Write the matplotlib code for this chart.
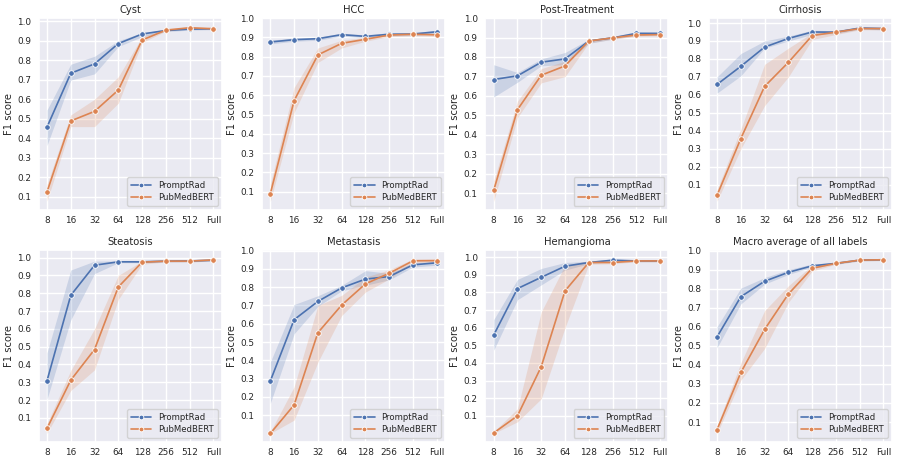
import numpy as np
import matplotlib
matplotlib.use("Agg")
import matplotlib.pyplot as plt
import seaborn as sns

sns.set_theme(style="darkgrid")
plt.rcParams['font.family'] = ['DejaVu Sans']

shots = ["8", "16", "32", "64", "128", "256", "512", "Full"]
series_names = ["PromptRad", "PubMedBERT"]

titles = ["Cyst", "HCC", "Post-Treatment", "Cirrhosis",
          "Steatosis", "Metastasis", "Hemangioma", "Macro average of all labels"]

# mean, lower, upper per panel: PromptRad (pr) and PubMedBERT (pm)
cyst_pr = [0.457, 0.733, 0.781, 0.885, 0.934, 0.952, 0.959, 0.961]
cyst_pr_lo = [0.363, 0.698, 0.730, 0.870, 0.920, 0.946, 0.954, 0.956]
cyst_pr_hi = [0.545, 0.779, 0.820, 0.900, 0.940, 0.958, 0.964, 0.966]
cyst_pm = [0.125, 0.489, 0.538, 0.647, 0.903, 0.954, 0.966, 0.961]
cyst_pm_lo = [0.078, 0.460, 0.460, 0.580, 0.890, 0.949, 0.961, 0.956]
cyst_pm_hi = [0.163, 0.520, 0.600, 0.715, 0.920, 0.959, 0.971, 0.966]

hcc_pr = [0.876, 0.888, 0.893, 0.914, 0.905, 0.916, 0.917, 0.929]
hcc_pr_lo = [0.866, 0.880, 0.885, 0.906, 0.897, 0.908, 0.909, 0.921]
hcc_pr_hi = [0.886, 0.896, 0.901, 0.922, 0.913, 0.924, 0.925, 0.937]
hcc_pm = [0.090, 0.572, 0.809, 0.869, 0.890, 0.912, 0.916, 0.913]
hcc_pm_lo = [0.050, 0.510, 0.770, 0.845, 0.880, 0.904, 0.908, 0.905]
hcc_pm_hi = [0.140, 0.640, 0.845, 0.885, 0.900, 0.920, 0.924, 0.921]

post_pr = [0.684, 0.703, 0.773, 0.790, 0.882, 0.898, 0.921, 0.921]
post_pr_lo = [0.594, 0.670, 0.755, 0.760, 0.870, 0.891, 0.910, 0.914]
post_pr_hi = [0.760, 0.720, 0.790, 0.823, 0.890, 0.905, 0.930, 0.928]
post_pm = [0.114, 0.529, 0.706, 0.754, 0.882, 0.898, 0.913, 0.915]
post_pm_lo = [0.057, 0.488, 0.667, 0.699, 0.872, 0.891, 0.906, 0.908]
post_pm_hi = [0.163, 0.573, 0.740, 0.778, 0.890, 0.905, 0.920, 0.922]

cirr_pr = [0.658, 0.759, 0.866, 0.914, 0.950, 0.949, 0.972, 0.969]
cirr_pr_lo = [0.610, 0.706, 0.860, 0.900, 0.936, 0.941, 0.965, 0.962]
cirr_pr_hi = [0.700, 0.830, 0.900, 0.927, 0.960, 0.957, 0.979, 0.976]
cirr_pm = [0.041, 0.357, 0.647, 0.781, 0.930, 0.949, 0.969, 0.969]
cirr_pm_lo = [0.008, 0.300, 0.540, 0.700, 0.908, 0.936, 0.962, 0.962]
cirr_pm_hi = [0.072, 0.410, 0.770, 0.860, 0.945, 0.960, 0.976, 0.976]

stea_pr = [0.308, 0.788, 0.957, 0.976, 0.976, 0.980, 0.981, 0.985]
stea_pr_lo = [0.204, 0.650, 0.910, 0.971, 0.971, 0.975, 0.976, 0.980]
stea_pr_hi = [0.465, 0.930, 0.980, 0.981, 0.981, 0.985, 0.986, 0.990]
stea_pm = [0.041, 0.312, 0.484, 0.835, 0.974, 0.980, 0.980, 0.987]
stea_pm_lo = [0.013, 0.254, 0.370, 0.765, 0.963, 0.975, 0.975, 0.982]
stea_pm_hi = [0.068, 0.366, 0.600, 0.900, 0.980, 0.985, 0.985, 0.992]

meta_pr = [0.287, 0.622, 0.722, 0.796, 0.844, 0.858, 0.922, 0.933]
meta_pr_lo = [0.165, 0.545, 0.695, 0.780, 0.810, 0.840, 0.910, 0.920]
meta_pr_hi = [0.390, 0.705, 0.753, 0.810, 0.890, 0.876, 0.933, 0.940]
meta_pm = [0.000, 0.156, 0.551, 0.702, 0.818, 0.876, 0.944, 0.945]
meta_pm_lo = [0.000, 0.073, 0.390, 0.645, 0.773, 0.845, 0.933, 0.933]
meta_pm_hi = [0.009, 0.255, 0.700, 0.755, 0.855, 0.895, 0.954, 0.954]

hema_pr = [0.558, 0.822, 0.886, 0.949, 0.970, 0.983, 0.979, 0.979]
hema_pr_lo = [0.472, 0.759, 0.843, 0.927, 0.963, 0.976, 0.974, 0.974]
hema_pr_hi = [0.646, 0.874, 0.936, 0.970, 0.977, 0.990, 0.984, 0.984]
hema_pm = [0.003, 0.100, 0.379, 0.809, 0.970, 0.970, 0.979, 0.979]
hema_pm_lo = [0.000, 0.066, 0.197, 0.600, 0.960, 0.963, 0.974, 0.974]
hema_pm_hi = [0.010, 0.140, 0.690, 0.955, 0.980, 0.977, 0.984, 0.984]

macro_pr = [0.547, 0.758, 0.839, 0.886, 0.920, 0.933, 0.950, 0.952]
macro_pr_lo = [0.490, 0.720, 0.824, 0.875, 0.913, 0.928, 0.946, 0.948]
macro_pr_hi = [0.600, 0.803, 0.858, 0.900, 0.930, 0.938, 0.954, 0.956]
macro_pm = [0.060, 0.360, 0.586, 0.772, 0.907, 0.933, 0.950, 0.952]
macro_pm_lo = [0.040, 0.320, 0.486, 0.728, 0.893, 0.928, 0.946, 0.948]
macro_pm_hi = [0.080, 0.410, 0.685, 0.815, 0.924, 0.938, 0.954, 0.956]

panels = [
    (cyst_pr, cyst_pr_lo, cyst_pr_hi, cyst_pm, cyst_pm_lo, cyst_pm_hi),
    (hcc_pr, hcc_pr_lo, hcc_pr_hi, hcc_pm, hcc_pm_lo, hcc_pm_hi),
    (post_pr, post_pr_lo, post_pr_hi, post_pm, post_pm_lo, post_pm_hi),
    (cirr_pr, cirr_pr_lo, cirr_pr_hi, cirr_pm, cirr_pm_lo, cirr_pm_hi),
    (stea_pr, stea_pr_lo, stea_pr_hi, stea_pm, stea_pm_lo, stea_pm_hi),
    (meta_pr, meta_pr_lo, meta_pr_hi, meta_pm, meta_pm_lo, meta_pm_hi),
    (hema_pr, hema_pr_lo, hema_pr_hi, hema_pm, hema_pm_lo, hema_pm_hi),
    (macro_pr, macro_pr_lo, macro_pr_hi, macro_pm, macro_pm_lo, macro_pm_hi),
]

colors = sns.color_palette("deep")[:2]
yticks = [0.1, 0.2, 0.3, 0.4, 0.5, 0.6, 0.7, 0.8, 0.9, 1.0]

fig, axes = plt.subplots(2, 4, figsize=(8.99, 4.63), dpi=100)
fig.subplots_adjust(left=0.043, right=0.992, top=0.961, bottom=0.045,
                    wspace=0.22, hspace=0.21)

x = np.arange(len(shots))
for ax, title, data in zip(axes.flat, titles, panels):
    for k in range(2):
        mean, lo, hi = data[3 * k], data[3 * k + 1], data[3 * k + 2]
        ax.fill_between(x, lo, hi, color=colors[k], alpha=0.2, linewidth=0)
        ax.plot(x, mean, color=colors[k], marker='o', markersize=4,
                markeredgecolor='white', markeredgewidth=0.6, linewidth=1.2,
                label=series_names[k])
    ax.set_xticks(x)
    ax.set_xticklabels(shots, fontsize=6.4)
    ax.set_yticks(yticks)
    ax.set_yticklabels([f"{v:.1f}" for v in yticks], fontsize=6.4)
    ax.tick_params(axis='x', length=0, pad=4.3)
    ax.tick_params(axis='y', length=0, pad=5.4)
    ax.set_title(title, fontsize=7.2, pad=4)
    ax.set_ylabel("F1 score", fontsize=7.2, labelpad=2.5)
    ax.legend(loc='lower right', fontsize=6.1, handlelength=2.4,
              borderpad=0.45, labelspacing=0.35, markerscale=0.85)

fig.savefig("out.png", dpi=100)
